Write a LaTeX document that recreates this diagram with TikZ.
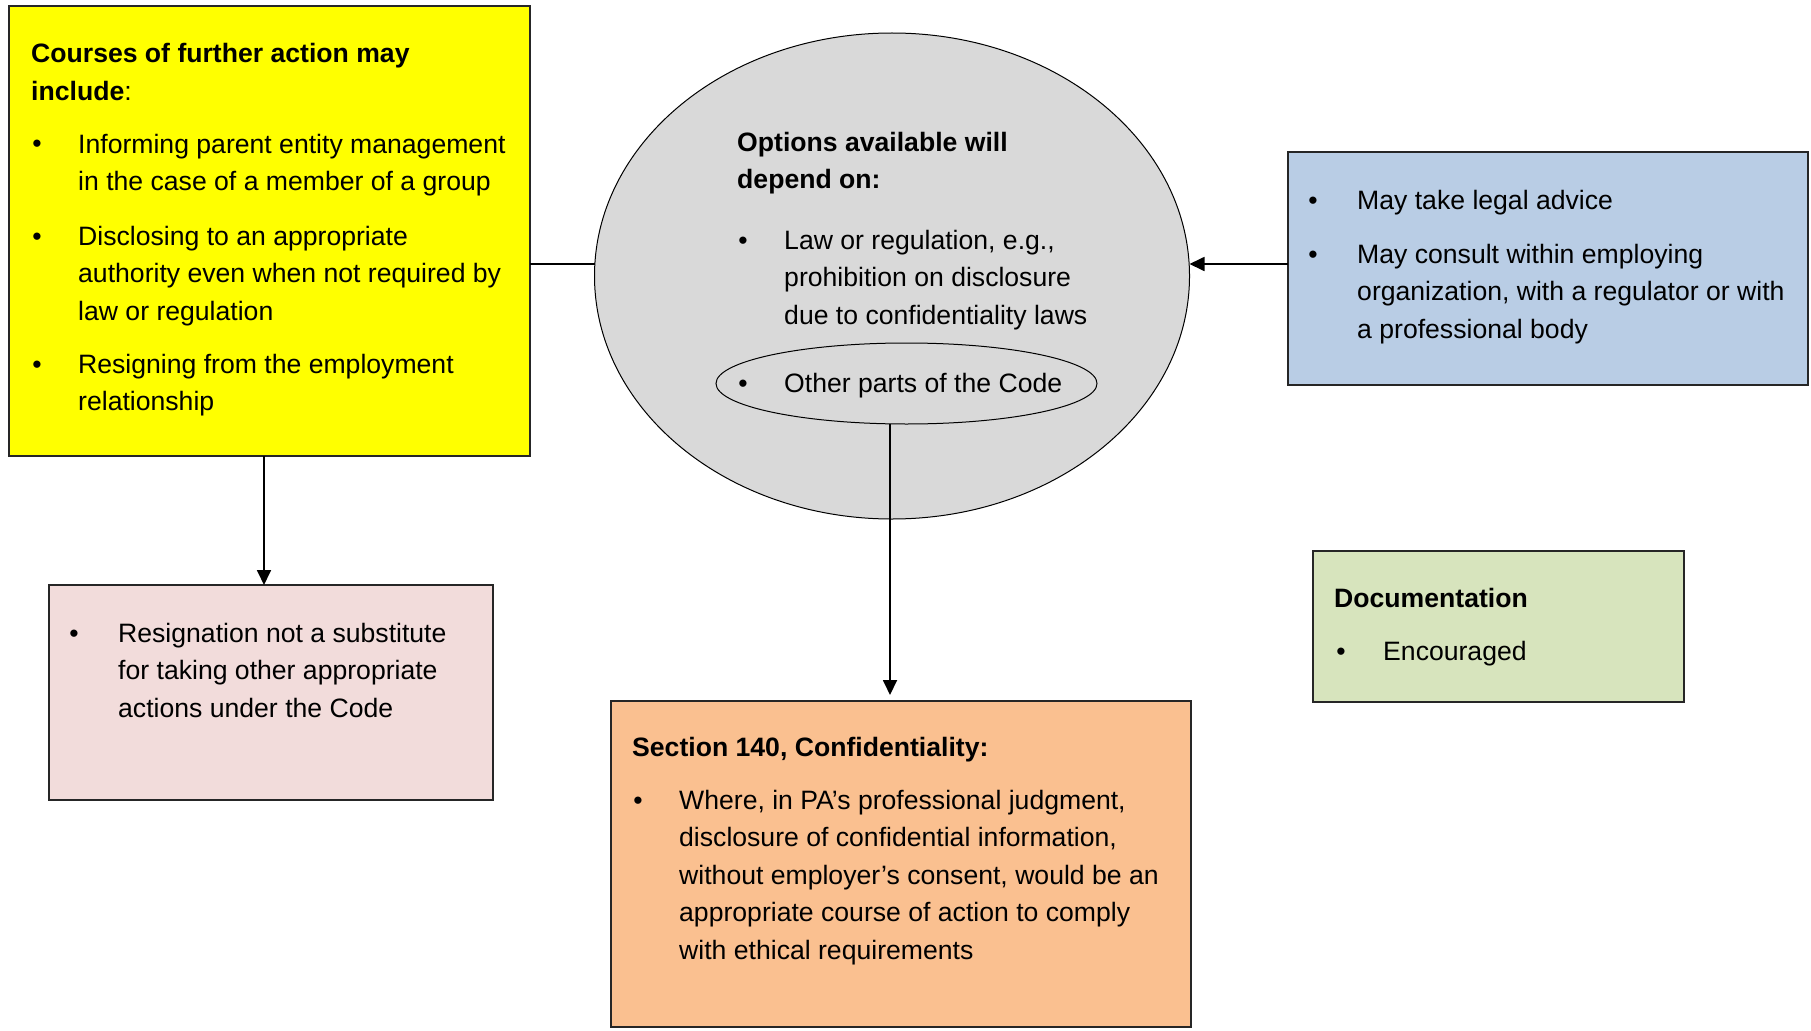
\documentclass[tikz,border=0pt]{standalone}
\usepackage{fontspec}
\setmainfont{Liberation Sans}
\usetikzlibrary{shapes.geometric,arrows.meta,calc}
\definecolor{boxyellow}{HTML}{FFFF00}
\definecolor{ovalgray}{HTML}{D9D9D9}
\definecolor{boxblue}{HTML}{B9CDE5}
\definecolor{boxpink}{HTML}{F2DCDB}
\definecolor{boxorange}{HTML}{FAC090}
\definecolor{boxgreen}{HTML}{D7E4BD}
\newcommand{\bodyfont}{\fontsize{26.6}{37.5}\selectfont}
\begin{document}
\begin{tikzpicture}[x=1pt,y=-1pt,
  panel/.style={draw=black!85,line width=1.8pt,inner sep=0pt,outer sep=0pt,anchor=north west},
  oval/.style={ellipse,draw=black,line width=1pt,inner sep=0pt,outer sep=0pt},
  % multi-line texts sit on the baseline of their last line
  txt/.style={anchor=base west,inner sep=0pt,align=left,font=\bodyfont},
  dot/.style={anchor=base,inner sep=0pt,font=\bodyfont},
  link/.style={line width=1.8pt},
  arr/.style={line width=1.8pt,-{Triangle[length=15pt,width=14pt]}},
]
\useasboundingbox (0,0) rectangle (1811,1030);
\fill[white] (0,0) rectangle (1811,1030);

% panels
\node[panel,fill=boxyellow,minimum width=521pt,minimum height=450pt] (yellow) at (9,6) {};
\node[oval,fill=ovalgray,minimum width=595pt,minimum height=486pt] (opts) at (892,276) {};
\node[oval,minimum width=381pt,minimum height=81pt] (code) at (906.5,383.5) {};
\node[panel,fill=boxblue,minimum width=520pt,minimum height=233pt] (advice) at (1288,152) {};
\node[panel,fill=boxpink,minimum width=444pt,minimum height=215pt] (resign) at (49,585) {};
\node[panel,fill=boxgreen,minimum width=371pt,minimum height=151pt] (docs) at (1313,551) {};
\node[panel,fill=boxorange,minimum width=580pt,minimum height=326pt] (conf) at (611,701) {};

% connectors
\coordinate (ya) at ([yshift=-33pt]yellow.east);
\draw[link] (ya) -- (opts.west |- ya);
\coordinate (ba) at ([yshift=4.5pt]advice.west);
\draw[arr] (ba) -- (opts.east |- ba);
\coordinate (ra) at ([xshift=-5.5pt]yellow.south);
\draw[arr] (ra) -- (ra |- resign.north);
\coordinate (ca) at ([xshift=-16.5pt]code.south);
\coordinate (cb) at ($(ca |- conf.north)+(0,-6)$);
\draw[arr] (ca) -- (cb);

% further action
\node[txt] (yh) at (31,100.5) {\textbf{Courses of further action may}\\\textbf{include}:};
\node[dot] (yb1) at (37,153) {•};
\node[txt] (yt1) at (78,190.5) {Informing parent entity management\\in the case of a member of a group};
\node[dot] (yb2) at (37,245) {•};
\node[txt] (yt2) at (78,320) {Disclosing to an appropriate\\authority even when not required by\\law or regulation};
\node[dot] (yb3) at (37,373) {•};
\node[txt] (yt3) at (78,410.5) {Resigning from the employment\\relationship};

% options
\node[txt] (oh) at (737,188.5) {\textbf{Options available will}\\\textbf{depend on:}};
\node[dot] (ob1) at (743,249) {•};
\node[txt] (ot1) at (784,324) {Law or regulation, e.g.,\\prohibition on disclosure\\due to confidentiality laws};
\node[dot] (ob2) at (743,392) {•};
\node[txt] (ot2) at (784,392) {Other parts of the Code};

% advice
\node[dot] (bb1) at (1313,209) {•};
\node[txt] (bt1) at (1357,209) {May take legal advice};
\node[dot] (bb2) at (1313,263) {•};
\node[txt] (bt2) at (1357,338) {May consult within employing\\organization, with a regulator or with\\a professional body};

% resignation
\node[dot] (pb) at (74,642) {•};
\node[txt] (pt) at (118,717) {Resignation not a substitute\\for taking other appropriate\\actions under the Code};

% documentation
\node[txt] (gh) at (1334,607) {\textbf{Documentation}};
\node[dot] (gb) at (1341,660) {•};
\node[txt] (gt) at (1383,660) {Encouraged};

% confidentiality
\node[txt] (sh) at (632,756) {\textbf{Section 140, Confidentiality:}};
\node[dot] (sb) at (638,809) {•};
\node[txt] (st) at (679,959) {Where, in PA’s professional judgment,\\disclosure of confidential information,\\without employer’s consent, would be an\\appropriate course of action to comply\\with ethical requirements};
\end{tikzpicture}
\end{document}
